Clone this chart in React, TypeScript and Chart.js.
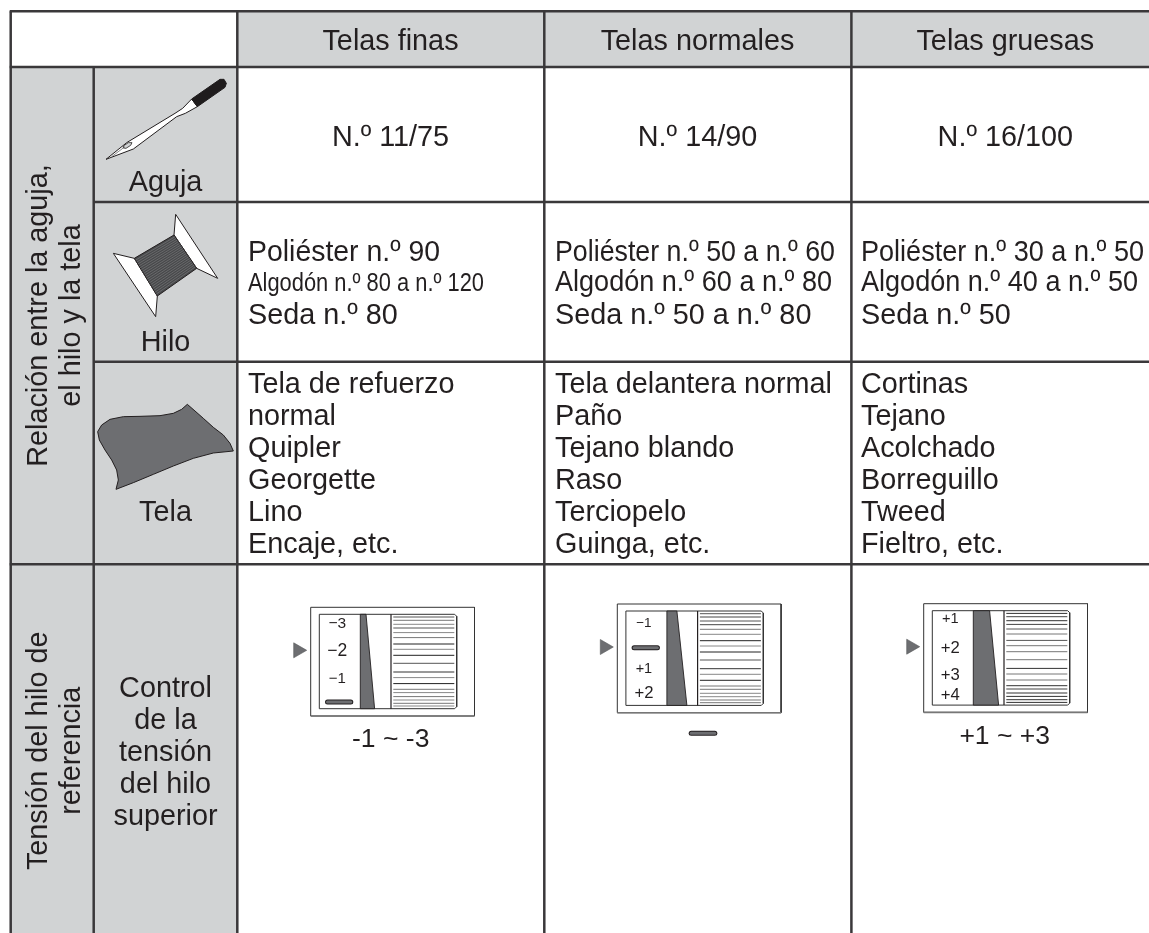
import React, { useEffect, useRef } from "react";
import { Chart, registerables } from "chart.js";

Chart.register(...registerables);

// ---------- content ----------
const fabricHeaders = ["Telas finas", "Telas normales", "Telas gruesas"];
const needleSizes = ["N.º 11/75", "N.º 14/90", "N.º 16/100"];
const threadRows = [
  ["Poliéster n.º 90", "Algodón n.º 80 a n.º 120", "Seda n.º 80"],
  ["Poliéster n.º 50 a n.º 60", "Algodón n.º 60 a n.º 80", "Seda n.º 50 a n.º 80"],
  ["Poliéster n.º 30 a n.º 50", "Algodón n.º 40 a n.º 50", "Seda n.º 50"],
];
const fabricRows = [
  ["Tela de refuerzo", "normal", "Quipler", "Georgette", "Lino", "Encaje, etc."],
  ["Tela delantera normal", "Paño", "Tejano blando", "Raso", "Terciopelo", "Guinga, etc."],
  ["Cortinas", "Tejano", "Acolchado", "Borreguillo", "Tweed", "Fieltro, etc."],
];
const itemLabels = ["Aguja", "Hilo", "Tela"];
const controlLabel = ["Control", "de la", "tensión", "del hilo", "superior"];
const relationLabel = ["Relación entre la aguja,", "el hilo y la tela"];
const tensionLabel = ["Tensión del hilo de", "referencia"];
const dialLabels = [
  ["−3", "−2", "−1"],
  ["−1", "+1", "+2"],
  ["+1", "+2", "+3", "+4"],
];
const rangeLabels = ["-1 ~ -3", "", "+1 ~ +3"];

// ---------- layout, in page pixels ----------
const W = 1149;
const H = 933;
const colX = [10.7, 93.7, 237.3, 544.3, 851.4];
const rowY = [11.2, 67, 202, 361.7, 564.3];
const textColX = [248, 555, 861];
const colCenter = [390.5, 697.5, 1005.3];
const threadBase = [260.5, 291, 323.5];
const fabricBase = [393.3, 425.3, 457.3, 489.3, 521.3, 553.3];
const controlBase = [696.7, 728.5, 760.7, 792.7, 825];
const threadWidths = [[192, 236, 0], [280, 277, 262], [283, 277, 0]];
const dialOrigins = [[310.7, 607.3], [617.3, 604], [923.7, 603.7]];
const wedges = [[5.7, 14.3], [10, 20], [16.3, 25.3]];
const dialBase = [[14, 41.3, 68.3], [16, 62.3, 86.7], [12.3, 42, 69, 89.3]];
const dialSize = [[15.5, 17.5, 15], [13.5, 14.5, 16.7], [14.6, 16.7, 16.7, 16.7]];
const dialMarkY = [87.7, 36.7, -1];
const dialLineY = [2.7, 6, 10, 13.7, 18.3, 23.3, 29.7, 35, 41, 49, 57.7, 63.3, 69.3, 75, 78.3, 82.3, 85.7, 89, 91.7];
const dialLineTint = [
  ["#555", "#777", "#888", "#555", "#888", "#777", "#222", "#888", "#222", "#555", "#333", "#888", "#222", "#777", "#888", "#777", "#888", "#777", "#888"],
  ["#555", "#444", "#555", "#444", "#777", "#888", "#222", "#888", "#222", "#555", "#333", "#888", "#222", "#777", "#777", "#888", "#888", "#777", "#777"],
  ["#333", "#444", "#333", "#444", "#555", "#777", "#555", "#777", "#777", "#777", "#333", "#777", "#777", "#333", "#444", "#333", "#333", "#333", "#333"],
];

const INK = "#231f20";
const LINE = "#3a383a";
const GREY = "#d1d3d4";
const DARK = "#6d6e71";

type P = { x: number; y: number };
const pts = (list: number[][]): P[] => list.map(([x, y]) => ({ x, y }));
const zoomed = (list: number[][], ox: number, oy: number) => list.map(([x, y]) => [ox + x / 3, oy + y / 3]);

const needleOutline = [[318, 478], [380, 428], [525, 340], [548, 325], [575, 297], [592, 320], [556, 340], [530, 350], [400, 447], [318, 478]];
const needleGrip = [[575, 297], [660, 238], [672, 238], [679, 250], [675, 262], [592, 320], [575, 297]];
const needleEye = [[370, 438], [385, 428], [396, 428], [392, 436], [378, 445], [370, 444], [370, 438]];
const needleGroove = [[335, 470], [375, 440]];
const spoolLeft = [[340, 760], [403, 775], [472, 888], [467, 950], [340, 760]];
const spoolRight = [[527, 643], [653, 835], [590, 805], [522, 705], [527, 643]];
const spoolCore = [[403, 775], [522, 705], [590, 805], [472, 888], [403, 775]];
const clothOutline = [
  [348, 478], [400, 458], [460, 433], [520, 408], [580, 385], [640, 369], [700, 363],
  [690, 340], [670, 315], [640, 292], [610, 265], [585, 243], [562, 223],
  [545, 238], [520, 250], [480, 257], [420, 259], [370, 260], [330, 268], [305, 285],
  [293, 305], [298, 330], [315, 360], [335, 390], [350, 420], [355, 450], [348, 478],
];

function shape(list: number[][], fill: string | null, stroke: string, width: number, cap = "butt") {
  return {
    data: pts(list),
    showLine: true,
    pointRadius: 0,
    pointHoverRadius: 0,
    tension: 0,
    fill: fill ? "shape" : false,
    backgroundColor: fill ?? "transparent",
    borderColor: stroke,
    borderWidth: width,
    borderCapStyle: cap,
    borderJoinStyle: "miter",
  };
}
const rect = (x0: number, y0: number, x1: number, y1: number) => [[x0, y0], [x1, y0], [x1, y1], [x0, y1], [x0, y0]];
const seg = (x0: number, y0: number, x1: number, y1: number) => [[x0, y0], [x1, y1]];

function buildDatasets() {
  const d: any[] = [];
  const [c0, c1, c2, c3, c4] = colX;
  const [r0, r1, r2, r3, r4] = rowY;
  // cell fills
  d.push(shape(rect(c2, r0, W, r1), GREY, GREY, 0));
  d.push(shape(rect(c0, r1, c2, H), GREY, GREY, 0));
  // needle
  d.push(shape(zoomed(needleOutline, 0, 0), "#ffffff", INK, 1));
  d.push(shape(zoomed(needleGrip, 0, 0), "#1f1c1d", "#1f1c1d", 1));
  d.push(shape(zoomed(needleEye, 0, 0), "#d1d3d4", INK, 0.8));
  d.push(shape(zoomed(needleGroove, 0, 0), null, "#555", 0.7));
  // spool
  d.push(shape(zoomed(spoolLeft, 0, 0), "#ffffff", INK, 1));
  d.push(shape(zoomed(spoolRight, 0, 0), "#ffffff", INK, 1));
  d.push(shape(zoomed(spoolCore, 0, 0), "#48494b", INK, 1));
  const [a, b, e, f] = spoolCore;
  const n = 20;
  for (let i = 1; i < n; i++) {
    const t = i / n;
    d.push(shape(zoomed([[a[0] + (f[0] - a[0]) * t, a[1] + (f[1] - a[1]) * t], [b[0] + (e[0] - b[0]) * t, b[1] + (e[1] - b[1]) * t]], 0, 0), null, "#8a8b8d", 0.5));
  }
  // cloth
  d.push(shape(zoomed(clothOutline, 0, 330), DARK, INK, 1));
  // grid
  [r0, r1].forEach((y) => d.push(shape(seg(c0 - 1, y, W, y), null, LINE, 2.5)));
  d.push(shape(seg(c1, r2, W, r2), null, LINE, 2.5));
  d.push(shape(seg(c1, r3, W, r3), null, LINE, 2.5));
  d.push(shape(seg(c0 - 1, r4, W, r4), null, LINE, 2.5));
  d.push(shape(seg(c0, r0, c0, H), null, LINE, 2.5));
  d.push(shape(seg(c1, r1, c1, H), null, LINE, 2.5));
  [c2, c3, c4].forEach((x) => d.push(shape(seg(x, r0, x, H), null, LINE, 2.5)));
  // dials
  dialOrigins.forEach(([ox, oy], k) => {
    const il = ox + 8.6;
    const it = oy + 7;
    const ir = il + 137.4;
    const ib = it + 94.4;
    d.push(shape(rect(ox, oy, ox + 163.8, oy + 108.7), null, "#333", 1));
    d.push(shape(seg(ox, oy + 108.7, ox + 163.8, oy + 108.7), null, "#777", 1.6));
    d.push(shape([[il, it], [ir - 2, it], [ir, it + 2], [ir, ib - 2], [ir - 2, ib], [il, ib], [il, it]], null, "#333", 1));
    const wl = il + 41;
    d.push(shape([[wl, it], [wl + wedges[k][0], it], [wl + wedges[k][1], ib], [wl, ib], [wl, it]], DARK, INK, 0.9));
    d.push(shape(seg(il + 71.7, it, il + 71.7, ib), null, INK, 1.2));
    dialLineY.forEach((y, i) => d.push(shape(seg(il + 74, it + y, il + 135, it + y), null, dialLineTint[k][i], 1)));
    const ty = oy + 43;
    d.push(shape([[ox - 17, ty - 7.5], [ox - 4, ty], [ox - 17, ty + 7.5], [ox - 17, ty - 7.5]], DARK, "#58595b", 0.6));
    if (dialMarkY[k] > 0) {
      const my = it + dialMarkY[k];
      d.push(shape(seg(il + 8.2, my, il + 31.5, my), null, INK, 5, "round"));
      d.push(shape(seg(il + 8.2, my, il + 31.5, my), null, DARK, 3, "round"));
    }
  });
  // "standard" mark standing in for the middle range label
  d.push(shape(seg(691.2, 733.3, 714.8, 733.3), null, INK, 5, "round"));
  d.push(shape(seg(691.2, 733.3, 714.8, 733.3), null, DARK, 3, "round"));
  return d.reverse();
}

const textPlugin = {
  id: "tableText",
  afterDatasetsDraw(chart: any) {
    const { ctx, scales } = chart;
    const px = (v: number) => scales.x.getPixelForValue(v);
    const py = (v: number) => scales.y.getPixelForValue(v);
    const put = (t: string, x: number, y: number, size: number, align: CanvasTextAlign = "left", width = 0) => {
      ctx.font = `${size}px "Liberation Sans", Arial, sans-serif`;
      ctx.textAlign = align;
      ctx.textBaseline = "alphabetic";
      ctx.fillStyle = INK;
      if (width) ctx.fillText(t, px(x), py(y), width);
      else ctx.fillText(t, px(x), py(y));
    };
    const putUp = (t: string, x: number, y: number, size: number) => {
      ctx.save();
      ctx.translate(px(x), py(y));
      ctx.rotate(-Math.PI / 2);
      ctx.font = `${size}px "Liberation Sans", Arial, sans-serif`;
      ctx.textAlign = "center";
      ctx.textBaseline = "alphabetic";
      ctx.fillStyle = INK;
      ctx.fillText(t, 0, 0);
      ctx.restore();
    };
    ctx.save();
    const S = 28.8;
    fabricHeaders.forEach((t, i) => put(t, colCenter[i], 50, S, "center"));
    needleSizes.forEach((t, i) => put(t, colCenter[i], 145.5, S, "center"));
    threadRows.forEach((col, i) =>
      col.forEach((t, j) => put(t, textColX[i], threadBase[j], j === 1 && i === 0 ? 25 : S, "left", threadWidths[i][j]))
    );
    fabricRows.forEach((col, i) => col.forEach((t, j) => put(t, textColX[i], fabricBase[j], S)));
    [190.7, 350.7, 521.3].forEach((y, i) => put(itemLabels[i], 165.5, y, S, "center"));
    controlLabel.forEach((t, i) => put(t, 165.5, controlBase[i], S, "center"));
    putUp(relationLabel[0], 47, 315.5, S);
    putUp(relationLabel[1], 79.5, 315.5, S);
    putUp(tensionLabel[0], 47, 750.8, S);
    putUp(tensionLabel[1], 79.5, 750.8, S);
    dialLabels.forEach((labels, k) => {
      const [ox, oy] = dialOrigins[k];
      labels.forEach((t, i) => put(t, ox + 8.6 + 18, oy + 7 + dialBase[k][i], dialSize[k][i], "center"));
    });
    put(rangeLabels[0], 390.7, 747.3, 26.5, "center");
    put(rangeLabels[2], 1004.7, 744.3, 26.5, "center");
    ctx.restore();
  },
};

export default function App() {
  const ref = useRef<HTMLCanvasElement>(null);
  useEffect(() => {
    const chart = new Chart(ref.current as HTMLCanvasElement, {
      type: "scatter",
      data: { datasets: buildDatasets() },
      options: {
        animation: false,
        responsive: false,
        layout: { padding: 0 },
        plugins: { legend: { display: false }, tooltip: { enabled: false }, title: { display: false } },
        scales: {
          x: { type: "linear", min: 0, max: W, display: false },
          y: { type: "linear", min: 0, max: H, reverse: true, display: false },
        },
      },
      plugins: [textPlugin],
    } as any);
    return () => chart.destroy();
  }, []);
  return (
    <canvas
      ref={ref}
      width={W}
      height={H}
      style={{ position: "absolute", left: 0, top: 0, display: "block", background: "#ffffff" }}
    />
  );
}
